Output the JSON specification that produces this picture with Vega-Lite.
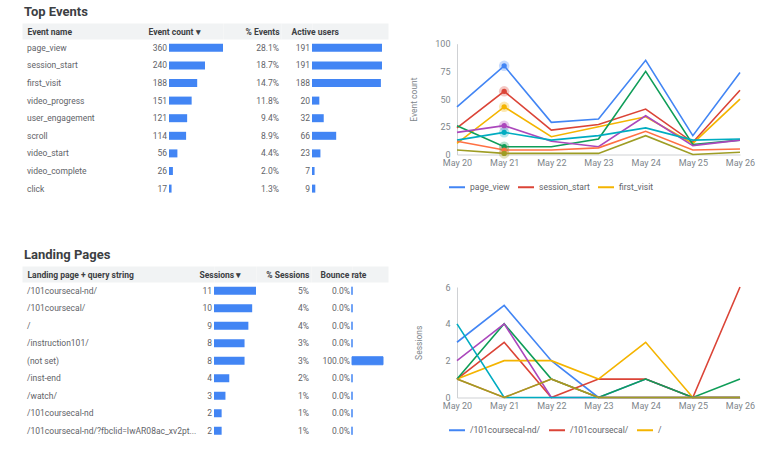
{
  "$schema": "https://vega.github.io/schema/vega-lite/v6.json",
  "autosize": {"type": "pad"},
  "padding": {"left": 22, "top": 6, "right": 8, "bottom": 8},
  "background": "white",
  "config": {
    "font": "Roboto",
    "view": {"stroke": null},
    "text": {"font": "Roboto", "fontSize": 8.5, "color": "#5f6368"},
    "title": {"font": "Roboto"},
    "axis": {"titleLimit": 300}
  },
  "datasets": {
    "topTable": [
      {"event": "page_view", "count": 360, "pct": 0.281, "users": 191},
      {"event": "session_start", "count": 240, "pct": 0.187, "users": 191},
      {"event": "first_visit", "count": 188, "pct": 0.147, "users": 188},
      {"event": "video_progress", "count": 151, "pct": 0.118, "users": 20},
      {"event": "user_engagement", "count": 121, "pct": 0.094, "users": 32},
      {"event": "scroll", "count": 114, "pct": 0.089, "users": 66},
      {"event": "video_start", "count": 56, "pct": 0.044, "users": 23},
      {"event": "video_complete", "count": 26, "pct": 0.02, "users": 7},
      {"event": "click", "count": 17, "pct": 0.013, "users": 9}
    ],
    "lpTable": [
      {"page": "/101coursecal-nd/", "sessions": 11, "pct": 0.05, "bounce": 0},
      {"page": "/101coursecal/", "sessions": 10, "pct": 0.04, "bounce": 0},
      {"page": "/", "sessions": 9, "pct": 0.04, "bounce": 0},
      {"page": "/instruction101/", "sessions": 8, "pct": 0.03, "bounce": 0},
      {"page": "(not set)", "sessions": 8, "pct": 0.03, "bounce": 1},
      {"page": "/inst-end", "sessions": 4, "pct": 0.02, "bounce": 0},
      {"page": "/watch/", "sessions": 3, "pct": 0.01, "bounce": 0},
      {"page": "/101coursecal-nd", "sessions": 2, "pct": 0.01, "bounce": 0},
      {"page": "/101coursecal-nd/?fbclid=IwAR08ac_xv2pt...", "sessions": 2, "pct": 0.01, "bounce": 0}
    ],
    "topTrend": [
      {"date": "May 20", "event": "page_view", "value": 43},
      {"date": "May 21", "event": "page_view", "value": 80},
      {"date": "May 22", "event": "page_view", "value": 29},
      {"date": "May 23", "event": "page_view", "value": 32},
      {"date": "May 24", "event": "page_view", "value": 85},
      {"date": "May 25", "event": "page_view", "value": 17},
      {"date": "May 26", "event": "page_view", "value": 74},
      {"date": "May 20", "event": "session_start", "value": 24},
      {"date": "May 21", "event": "session_start", "value": 57},
      {"date": "May 22", "event": "session_start", "value": 22},
      {"date": "May 23", "event": "session_start", "value": 27},
      {"date": "May 24", "event": "session_start", "value": 41},
      {"date": "May 25", "event": "session_start", "value": 11},
      {"date": "May 26", "event": "session_start", "value": 58},
      {"date": "May 20", "event": "first_visit", "value": 10},
      {"date": "May 21", "event": "first_visit", "value": 43},
      {"date": "May 22", "event": "first_visit", "value": 16},
      {"date": "May 23", "event": "first_visit", "value": 25},
      {"date": "May 24", "event": "first_visit", "value": 34},
      {"date": "May 25", "event": "first_visit", "value": 10},
      {"date": "May 26", "event": "first_visit", "value": 50},
      {"date": "May 20", "event": "video_progress", "value": 26},
      {"date": "May 21", "event": "video_progress", "value": 7},
      {"date": "May 22", "event": "video_progress", "value": 7},
      {"date": "May 23", "event": "video_progress", "value": 14},
      {"date": "May 24", "event": "video_progress", "value": 75},
      {"date": "May 25", "event": "video_progress", "value": 9},
      {"date": "May 26", "event": "video_progress", "value": 13},
      {"date": "May 20", "event": "user_engagement", "value": 20},
      {"date": "May 21", "event": "user_engagement", "value": 26},
      {"date": "May 22", "event": "user_engagement", "value": 12},
      {"date": "May 23", "event": "user_engagement", "value": 7},
      {"date": "May 24", "event": "user_engagement", "value": 35},
      {"date": "May 25", "event": "user_engagement", "value": 8},
      {"date": "May 26", "event": "user_engagement", "value": 13},
      {"date": "May 20", "event": "scroll", "value": 13},
      {"date": "May 21", "event": "scroll", "value": 20},
      {"date": "May 22", "event": "scroll", "value": 13},
      {"date": "May 23", "event": "scroll", "value": 17},
      {"date": "May 24", "event": "scroll", "value": 24},
      {"date": "May 25", "event": "scroll", "value": 13},
      {"date": "May 26", "event": "scroll", "value": 14},
      {"date": "May 20", "event": "video_start", "value": 12},
      {"date": "May 21", "event": "video_start", "value": 4},
      {"date": "May 22", "event": "video_start", "value": 4},
      {"date": "May 23", "event": "video_start", "value": 6},
      {"date": "May 24", "event": "video_start", "value": 21},
      {"date": "May 25", "event": "video_start", "value": 4},
      {"date": "May 26", "event": "video_start", "value": 5},
      {"date": "May 20", "event": "video_complete", "value": 4},
      {"date": "May 21", "event": "video_complete", "value": 1},
      {"date": "May 22", "event": "video_complete", "value": 1},
      {"date": "May 23", "event": "video_complete", "value": 1},
      {"date": "May 24", "event": "video_complete", "value": 17},
      {"date": "May 25", "event": "video_complete", "value": 0},
      {"date": "May 26", "event": "video_complete", "value": 2}
    ],
    "lpTrend": [
      {"date": "May 20", "page": "/101coursecal-nd/", "value": 3},
      {"date": "May 21", "page": "/101coursecal-nd/", "value": 5},
      {"date": "May 22", "page": "/101coursecal-nd/", "value": 2},
      {"date": "May 23", "page": "/101coursecal-nd/", "value": 0},
      {"date": "May 24", "page": "/101coursecal-nd/", "value": 1},
      {"date": "May 25", "page": "/101coursecal-nd/", "value": 0},
      {"date": "May 26", "page": "/101coursecal-nd/", "value": 0},
      {"date": "May 20", "page": "/101coursecal/", "value": 1},
      {"date": "May 21", "page": "/101coursecal/", "value": 3},
      {"date": "May 22", "page": "/101coursecal/", "value": 0},
      {"date": "May 23", "page": "/101coursecal/", "value": 1},
      {"date": "May 24", "page": "/101coursecal/", "value": 1},
      {"date": "May 25", "page": "/101coursecal/", "value": 0},
      {"date": "May 26", "page": "/101coursecal/", "value": 6},
      {"date": "May 20", "page": "/", "value": 1},
      {"date": "May 21", "page": "/", "value": 2},
      {"date": "May 22", "page": "/", "value": 2},
      {"date": "May 23", "page": "/", "value": 1},
      {"date": "May 24", "page": "/", "value": 3},
      {"date": "May 25", "page": "/", "value": 0},
      {"date": "May 26", "page": "/", "value": 0},
      {"date": "May 20", "page": "/instruction101/", "value": 1},
      {"date": "May 21", "page": "/instruction101/", "value": 4},
      {"date": "May 22", "page": "/instruction101/", "value": 1},
      {"date": "May 23", "page": "/instruction101/", "value": 0},
      {"date": "May 24", "page": "/instruction101/", "value": 1},
      {"date": "May 25", "page": "/instruction101/", "value": 0},
      {"date": "May 26", "page": "/instruction101/", "value": 1},
      {"date": "May 20", "page": "(not set)", "value": 2},
      {"date": "May 21", "page": "(not set)", "value": 4},
      {"date": "May 22", "page": "(not set)", "value": 0},
      {"date": "May 23", "page": "(not set)", "value": 0},
      {"date": "May 24", "page": "(not set)", "value": 0},
      {"date": "May 25", "page": "(not set)", "value": 0},
      {"date": "May 26", "page": "(not set)", "value": 0},
      {"date": "May 20", "page": "/inst-end", "value": 4},
      {"date": "May 21", "page": "/inst-end", "value": 0},
      {"date": "May 22", "page": "/inst-end", "value": 0},
      {"date": "May 23", "page": "/inst-end", "value": 0},
      {"date": "May 24", "page": "/inst-end", "value": 0},
      {"date": "May 25", "page": "/inst-end", "value": 0},
      {"date": "May 26", "page": "/inst-end", "value": 0},
      {"date": "May 20", "page": "/watch/", "value": 1},
      {"date": "May 21", "page": "/watch/", "value": 0},
      {"date": "May 22", "page": "/watch/", "value": 1},
      {"date": "May 23", "page": "/watch/", "value": 0},
      {"date": "May 24", "page": "/watch/", "value": 0},
      {"date": "May 25", "page": "/watch/", "value": 0},
      {"date": "May 26", "page": "/watch/", "value": 0},
      {"date": "May 20", "page": "/101coursecal-nd", "value": 1},
      {"date": "May 21", "page": "/101coursecal-nd", "value": 0},
      {"date": "May 22", "page": "/101coursecal-nd", "value": 1},
      {"date": "May 23", "page": "/101coursecal-nd", "value": 0},
      {"date": "May 24", "page": "/101coursecal-nd", "value": 0},
      {"date": "May 25", "page": "/101coursecal-nd", "value": 0},
      {"date": "May 26", "page": "/101coursecal-nd", "value": 0}
    ]
  },
  "spacing": 51,
  "resolve": {"scale": {"color": "independent"}, "legend": {"color": "independent"}},
  "vconcat": [
    {
      "bounds": "flush",
      "spacing": 0,
      "resolve": {"scale": {"color": "independent"}, "legend": {"color": "independent"}},
      "hconcat": [
        {
          "width": 147, "height": 158.4,
          "data": {"name": "topTable"},
          "title": {"text": "Top Events", "anchor": "start", "dx": 2, "offset": 8, "fontSize": 13, "fontWeight": "bold", "color": "#3c4043"},
          "mark": {"type": "text", "align": "left", "baseline": "middle", "dx": 5},
          "encoding": {
            "y": {"field": "event", "type": "nominal", "sort": null, "axis": null, "scale": {"paddingInner": 0, "paddingOuter": 0}},
            "x": {"datum": 0, "type": "quantitative", "scale": {"domain": [0, 1], "nice": false},
              "axis": {"orient": "top", "title": "Event name", "titleLimit": 300, "labels": false, "ticks": false, "grid": false, "domain": true, "domainColor": "#f1f3f4", "domainWidth": 16, "offset": 8, "titleX": 5, "titleY": 0, "titleAlign": "left", "titleAngle": 0, "titleBaseline": "middle", "titleFontWeight": "bold", "titleFontSize": 8.5, "titleColor": "#3c4043"}},
            "text": {"field": "event"}
          }
        },
        {
          "width": 54, "height": 158.4,
          "data": {"name": "topTable"},
          "encoding": {
            "y": {"field": "event", "type": "nominal", "sort": null, "axis": null, "scale": {"paddingInner": 0, "paddingOuter": 0}}
          },
          "layer": [
            {
              "mark": {"type": "bar", "size": 8, "color": "#4285f4"},
              "encoding": {
                "x": {"field": "count", "type": "quantitative", "scale": {"domain": [0, 360], "nice": false},
                  "axis": {"orient": "top", "title": "Event count ▾", "titleLimit": 300, "labels": false, "ticks": false, "grid": false, "domain": true, "domainColor": "#f1f3f4", "domainWidth": 16, "offset": 8, "titleX": -21, "titleY": 0, "titleAlign": "left", "titleAngle": 0, "titleBaseline": "middle", "titleFontWeight": "bold", "titleFontSize": 8.5, "titleColor": "#3c4043"}}
              }
            },
            {
              "mark": {"type": "text", "align": "right", "baseline": "middle", "dx": -2},
              "encoding": {
                "x": {"datum": 0, "type": "quantitative",
                  "axis": {"orient": "top", "title": "Event count ▾", "titleLimit": 300, "labels": false, "ticks": false, "grid": false, "domain": true, "domainColor": "#f1f3f4", "domainWidth": 16, "offset": 8, "titleX": -21, "titleY": 0, "titleAlign": "left", "titleAngle": 0, "titleBaseline": "middle", "titleFontWeight": "bold", "titleFontSize": 8.5, "titleColor": "#3c4043"}},
                "text": {"field": "count"}
              }
            }
          ]
        },
        {
          "width": 58, "height": 158.4,
          "data": {"name": "topTable"},
          "mark": {"type": "text", "align": "right", "baseline": "middle", "dx": -2},
          "encoding": {
            "y": {"field": "event", "type": "nominal", "sort": null, "axis": null, "scale": {"paddingInner": 0, "paddingOuter": 0}},
            "x": {"datum": 1, "type": "quantitative", "scale": {"domain": [0, 1], "nice": false},
              "axis": {"orient": "top", "title": "% Events", "titleLimit": 300, "labels": false, "ticks": false, "grid": false, "domain": true, "domainColor": "#f1f3f4", "domainWidth": 16, "offset": 8, "titleX": 56, "titleY": 0, "titleAlign": "right", "titleAngle": 0, "titleBaseline": "middle", "titleFontWeight": "bold", "titleFontSize": 8.5, "titleColor": "#3c4043"}},
            "text": {"field": "pct", "format": ".1%"}
          }
        },
        {
          "width": 31, "height": 158.4,
          "data": {"name": "topTable"},
          "mark": {"type": "text", "align": "right", "baseline": "middle", "dx": -2},
          "encoding": {
            "y": {"field": "event", "type": "nominal", "sort": null, "axis": null, "scale": {"paddingInner": 0, "paddingOuter": 0}},
            "x": {"datum": 1, "type": "quantitative", "scale": {"domain": [0, 1], "nice": false},
              "axis": {"orient": "top", "title": null, "labels": false, "ticks": false, "grid": false, "domain": true, "domainColor": "#f1f3f4", "domainWidth": 16, "offset": 8}},
            "text": {"field": "users"}
          }
        },
        {
          "width": 76, "height": 158.4,
          "data": {"name": "topTable"},
          "mark": {"type": "bar", "size": 8, "color": "#4285f4"},
          "encoding": {
            "y": {"field": "event", "type": "nominal", "sort": null, "axis": null, "scale": {"paddingInner": 0, "paddingOuter": 0}},
            "x": {"field": "users", "type": "quantitative", "scale": {"domain": [0, 207.4], "nice": false},
              "axis": {"orient": "top", "title": "Active users", "titleLimit": 300, "labels": false, "ticks": false, "grid": false, "domain": true, "domainColor": "#f1f3f4", "domainWidth": 16, "offset": 8, "titleX": -21, "titleY": 0, "titleAlign": "left", "titleAngle": 0, "titleBaseline": "middle", "titleFontWeight": "bold", "titleFontSize": 8.5, "titleColor": "#3c4043"}}
          }
        },
        {
          "width": 69, "height": 1,
          "data": {"values": []},
          "mark": "point"
        },
        {
          "width": 283, "height": 115.5,
          "data": {"name": "topTrend"},
          "encoding": {
            "x": {"field": "date", "type": "ordinal", "scale": {"type": "point", "padding": 0},
              "axis": {"title": null, "ticks": false, "grid": false, "labelAngle": 0, "labelColor": "#80868b", "labelFontSize": 9, "labelPadding": 4, "domainColor": "#cfd1d4"}},
            "y": {"field": "value", "type": "quantitative", "scale": {"domain": [0, 100], "range": [115.5, 4.7], "nice": false},
              "axis": {"title": "Event count", "values": [0, 25, 50, 75, 100], "ticks": false, "grid": false, "domainColor": "#cfd1d4", "labelColor": "#80868b", "labelFontSize": 9, "labelPadding": 7, "titleColor": "#80868b", "titleFontSize": 8.5, "titleFontWeight": "normal", "titlePadding": 16}},
            "color": {"field": "event", "type": "nominal",
              "scale": {"domain": ["page_view", "session_start", "first_visit", "video_progress", "user_engagement", "scroll", "video_start", "video_complete"],
                "range": ["#4285f4", "#db4437", "#f4b400", "#0f9d58", "#ab47bc", "#00acc1", "#ff7043", "#9e9d24"]},
              "legend": {"orient": "none", "legendX": -9, "legendY": 139, "direction": "horizontal", "title": null, "values": ["page_view", "session_start", "first_visit"], "symbolType": "stroke", "symbolSize": 256, "symbolStrokeWidth": 2, "symbolOpacity": 1, "labelFontSize": 8.5, "labelColor": "#5f6368", "labelOffset": 4, "columnPadding": 4, "padding": 0}}
          },
          "layer": [
            {"mark": {"type": "line", "strokeWidth": 1.6}},
            {"transform": [{"filter": "datum.date === 'May 21'"}], "mark": {"type": "circle", "size": 110, "opacity": 0.3}},
            {"transform": [{"filter": "datum.date === 'May 21'"}], "mark": {"type": "circle", "size": 28, "opacity": 1}}
          ]
        }
      ]
    },
    {
      "bounds": "flush",
      "spacing": 0,
      "resolve": {"scale": {"color": "independent"}, "legend": {"color": "independent"}},
      "hconcat": [
        {
          "width": 192, "height": 157.5,
          "data": {"name": "lpTable"},
          "title": {"text": "Landing Pages", "anchor": "start", "dx": 2, "offset": 8, "fontSize": 13, "fontWeight": "bold", "color": "#3c4043"},
          "mark": {"type": "text", "align": "left", "baseline": "middle", "dx": 5},
          "encoding": {
            "y": {"field": "page", "type": "nominal", "sort": null, "axis": null, "scale": {"paddingInner": 0, "paddingOuter": 0}},
            "x": {"datum": 0, "type": "quantitative", "scale": {"domain": [0, 1], "nice": false},
              "axis": {"orient": "top", "title": "Landing page + query string", "titleLimit": 300, "labels": false, "ticks": false, "grid": false, "domain": true, "domainColor": "#f1f3f4", "domainWidth": 16, "offset": 8, "titleX": 5, "titleY": 0, "titleAlign": "left", "titleAngle": 0, "titleBaseline": "middle", "titleFontWeight": "bold", "titleFontSize": 8.5, "titleColor": "#3c4043"}},
            "text": {"field": "page"}
          }
        },
        {
          "width": 42, "height": 157.5,
          "data": {"name": "lpTable"},
          "encoding": {
            "y": {"field": "page", "type": "nominal", "sort": null, "axis": null, "scale": {"paddingInner": 0, "paddingOuter": 0}}
          },
          "layer": [
            {
              "mark": {"type": "bar", "size": 8, "color": "#4285f4"},
              "encoding": {
                "x": {"field": "sessions", "type": "quantitative", "scale": {"domain": [0, 11], "nice": false},
                  "axis": {"orient": "top", "title": "Sessions ▾", "titleLimit": 300, "labels": false, "ticks": false, "grid": false, "domain": true, "domainColor": "#f1f3f4", "domainWidth": 16, "offset": 8, "titleX": -15, "titleY": 0, "titleAlign": "left", "titleAngle": 0, "titleBaseline": "middle", "titleFontWeight": "bold", "titleFontSize": 8.5, "titleColor": "#3c4043"}}
              }
            },
            {
              "mark": {"type": "text", "align": "right", "baseline": "middle", "dx": -2},
              "encoding": {
                "x": {"datum": 0, "type": "quantitative",
                  "axis": {"orient": "top", "title": "Sessions ▾", "titleLimit": 300, "labels": false, "ticks": false, "grid": false, "domain": true, "domainColor": "#f1f3f4", "domainWidth": 16, "offset": 8, "titleX": -15, "titleY": 0, "titleAlign": "left", "titleAngle": 0, "titleBaseline": "middle", "titleFontWeight": "bold", "titleFontSize": 8.5, "titleColor": "#3c4043"}},
                "text": {"field": "sessions"}
              }
            }
          ]
        },
        {
          "width": 55, "height": 157.5,
          "data": {"name": "lpTable"},
          "mark": {"type": "text", "align": "right", "baseline": "middle", "dx": -2},
          "encoding": {
            "y": {"field": "page", "type": "nominal", "sort": null, "axis": null, "scale": {"paddingInner": 0, "paddingOuter": 0}},
            "x": {"datum": 1, "type": "quantitative", "scale": {"domain": [0, 1], "nice": false},
              "axis": {"orient": "top", "title": "% Sessions", "titleLimit": 300, "labels": false, "ticks": false, "grid": false, "domain": true, "domainColor": "#f1f3f4", "domainWidth": 16, "offset": 8, "titleX": 53, "titleY": 0, "titleAlign": "right", "titleAngle": 0, "titleBaseline": "middle", "titleFontWeight": "bold", "titleFontSize": 8.5, "titleColor": "#3c4043"}},
            "text": {"field": "pct", "format": ".0%"}
          }
        },
        {
          "width": 41, "height": 157.5,
          "data": {"name": "lpTable"},
          "mark": {"type": "text", "align": "right", "baseline": "middle", "dx": -2},
          "encoding": {
            "y": {"field": "page", "type": "nominal", "sort": null, "axis": null, "scale": {"paddingInner": 0, "paddingOuter": 0}},
            "x": {"datum": 1, "type": "quantitative", "scale": {"domain": [0, 1], "nice": false},
              "axis": {"orient": "top", "title": null, "labels": false, "ticks": false, "grid": false, "domain": true, "domainColor": "#f1f3f4", "domainWidth": 16, "offset": 8}},
            "text": {"field": "bounce", "format": ".1%"}
          }
        },
        {
          "width": 36, "height": 157.5,
          "data": {"name": "lpTable"},
          "mark": {"type": "bar", "size": 8, "color": "#4285f4", "stroke": "#4285f4", "strokeWidth": 1},
          "encoding": {
            "y": {"field": "page", "type": "nominal", "sort": null, "axis": null, "scale": {"paddingInner": 0, "paddingOuter": 0}},
            "x": {"field": "bounce", "type": "quantitative", "scale": {"domain": [0, 1.161], "nice": false},
              "axis": {"orient": "top", "title": "Bounce rate", "titleLimit": 300, "labels": false, "ticks": false, "grid": false, "domain": true, "domainColor": "#f1f3f4", "domainWidth": 16, "offset": 8, "titleX": -32, "titleY": 0, "titleAlign": "left", "titleAngle": 0, "titleBaseline": "middle", "titleFontWeight": "bold", "titleFontSize": 8.5, "titleColor": "#3c4043"}}
          }
        },
        {
          "width": 69, "height": 1,
          "data": {"values": []},
          "mark": "point"
        },
        {
          "width": 283, "height": 115.5,
          "data": {"name": "lpTrend"},
          "encoding": {
            "x": {"field": "date", "type": "ordinal", "scale": {"type": "point", "padding": 0},
              "axis": {"title": null, "ticks": false, "grid": false, "labelAngle": 0, "labelColor": "#80868b", "labelFontSize": 9, "labelPadding": 4, "domainColor": "#cfd1d4"}},
            "y": {"field": "value", "type": "quantitative", "scale": {"domain": [0, 6], "range": [115.5, 5], "nice": false},
              "axis": {"title": "Sessions", "values": [0, 2, 4, 6], "ticks": false, "grid": false, "domainColor": "#cfd1d4", "labelColor": "#80868b", "labelFontSize": 9, "labelPadding": 7, "titleColor": "#80868b", "titleFontSize": 8.5, "titleFontWeight": "normal", "titlePadding": 21}},
            "color": {"field": "page", "type": "nominal",
              "scale": {"domain": ["/101coursecal-nd/", "/101coursecal/", "/", "/instruction101/", "(not set)", "/inst-end", "/watch/", "/101coursecal-nd"],
                "range": ["#4285f4", "#db4437", "#f4b400", "#0f9d58", "#ab47bc", "#00acc1", "#ff7043", "#9e9d24"]},
              "legend": {"orient": "none", "legendX": -9, "legendY": 139, "direction": "horizontal", "title": null, "values": ["/101coursecal-nd/", "/101coursecal/", "/"], "symbolType": "stroke", "symbolSize": 256, "symbolStrokeWidth": 2, "labelFontSize": 8.5, "labelColor": "#5f6368", "labelOffset": 4, "columnPadding": 4, "padding": 0}}
          },
          "mark": {"type": "line", "strokeWidth": 1.6}
        }
      ]
    }
  ]
}
